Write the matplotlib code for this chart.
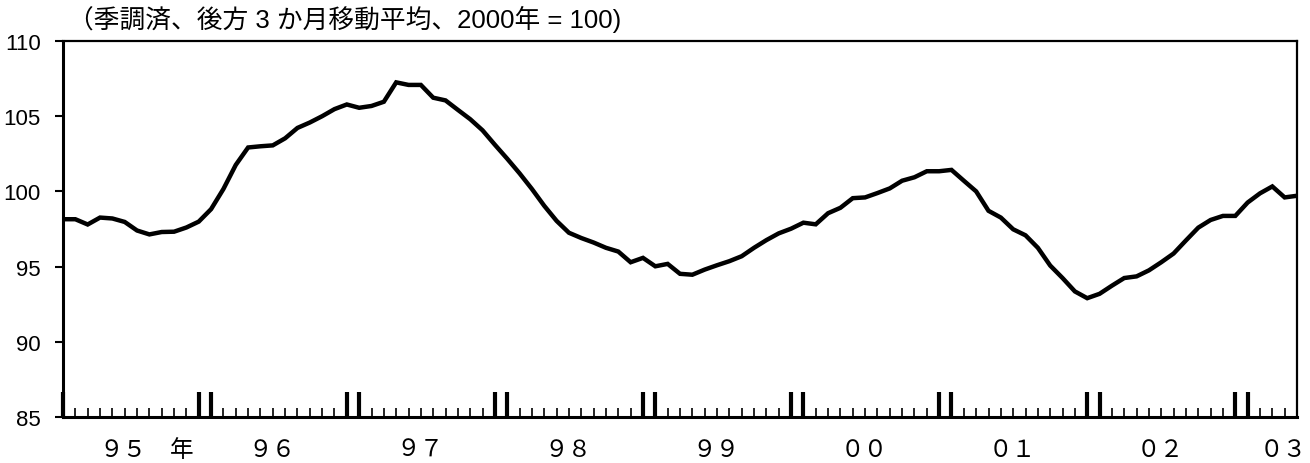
import numpy as np
import matplotlib.pyplot as plt
from matplotlib.ticker import FixedLocator
from matplotlib.transforms import blended_transform_factory

plt.rcParams['font.family'] = ['Liberation Sans', 'Noto Sans CJK JP', 'DejaVu Sans']

# monthly index, Jan 1995 - May 2003 (seasonally adjusted, 3-month backward moving average)
values = [98.15, 98.15, 97.8, 98.26, 98.2, 97.97, 97.4, 97.14, 97.3, 97.32, 97.6, 97.99,
          98.82, 100.16, 101.76, 102.92, 103.0, 103.06, 103.53, 104.22, 104.58, 105.0, 105.47, 105.78,
          105.56, 105.68, 105.96, 107.25, 107.08, 107.08, 106.23, 106.05, 105.42, 104.8, 104.06, 103.1,
          102.17, 101.2, 100.16, 99.04, 98.04, 97.25, 96.9, 96.6, 96.25, 96.0, 95.29, 95.58,
          95.02, 95.18, 94.52, 94.46, 94.8, 95.09, 95.36, 95.69, 96.25, 96.76, 97.21, 97.52,
          97.92, 97.81, 98.55, 98.91, 99.55, 99.6, 99.89, 100.2, 100.71, 100.94, 101.34, 101.34,
          101.43, 100.71, 100.0, 98.71, 98.26, 97.48, 97.08, 96.25, 95.07, 94.24, 93.35, 92.9,
          93.19, 93.73, 94.24, 94.35, 94.75, 95.29, 95.87, 96.74, 97.59, 98.1, 98.37, 98.37,
          99.26, 99.87, 100.33, 99.6, 99.71]
year_labels = ['９５', '９６', '９７', '９８', '９９', '００', '０１', '０２', '０３']
yticks = [85, 90, 95, 100, 105, 110]

months = np.arange(len(values))

fig = plt.figure(figsize=(13.1, 4.64), dpi=100)
ax = fig.add_axes([63 / 1310, 46 / 464, 1234 / 1310, 376 / 464])

ax.plot(months, values, color='black', linewidth=3.2, solid_joinstyle='miter')

ax.set_xlim(0, len(values) - 1)
ax.set_ylim(85, 110)

# y axis
ax.set_yticks(yticks)
ax.set_yticklabels([str(v) for v in yticks], fontsize=16)
ax.tick_params(axis='y', direction='out', length=6, width=1.5, pad=10)

# x axis: long double ticks at year boundaries, short ticks each month
major = [0]
for y in range(1, 9):
    major += [12 * y - 1, 12 * y]
minor = [m for m in months if m not in major]
ax.xaxis.set_major_locator(FixedLocator(major))
ax.xaxis.set_minor_locator(FixedLocator(minor))
ax.set_xticklabels([])
ax.tick_params(axis='x', which='major', direction='in', length=18, width=3)
ax.tick_params(axis='x', which='minor', direction='in', length=6.5, width=1.2)

for side in ['left', 'bottom']:
    ax.spines[side].set_linewidth(2.2)
for side in ['top', 'right']:
    ax.spines[side].set_linewidth(1.6)

trans = blended_transform_factory(ax.transData, ax.transAxes)
for k, lab in enumerate(year_labels):
    xpos = 12 * k + 4.9
    if k == len(year_labels) - 1:
        xpos = 98.9
    ax.text(xpos, -0.088, lab, transform=trans, ha='center', va='center', fontsize=17)
ax.text(9.6, -0.088, '年', transform=trans, ha='center', va='center', fontsize=17)

fig.text(68 / 1310, 1 - 19 / 464, '（季調済、後方 3 か月移動平均、2000年 = 100)',
         ha='left', va='center', fontsize=18.5)

fig.savefig('out.png', dpi=100)
